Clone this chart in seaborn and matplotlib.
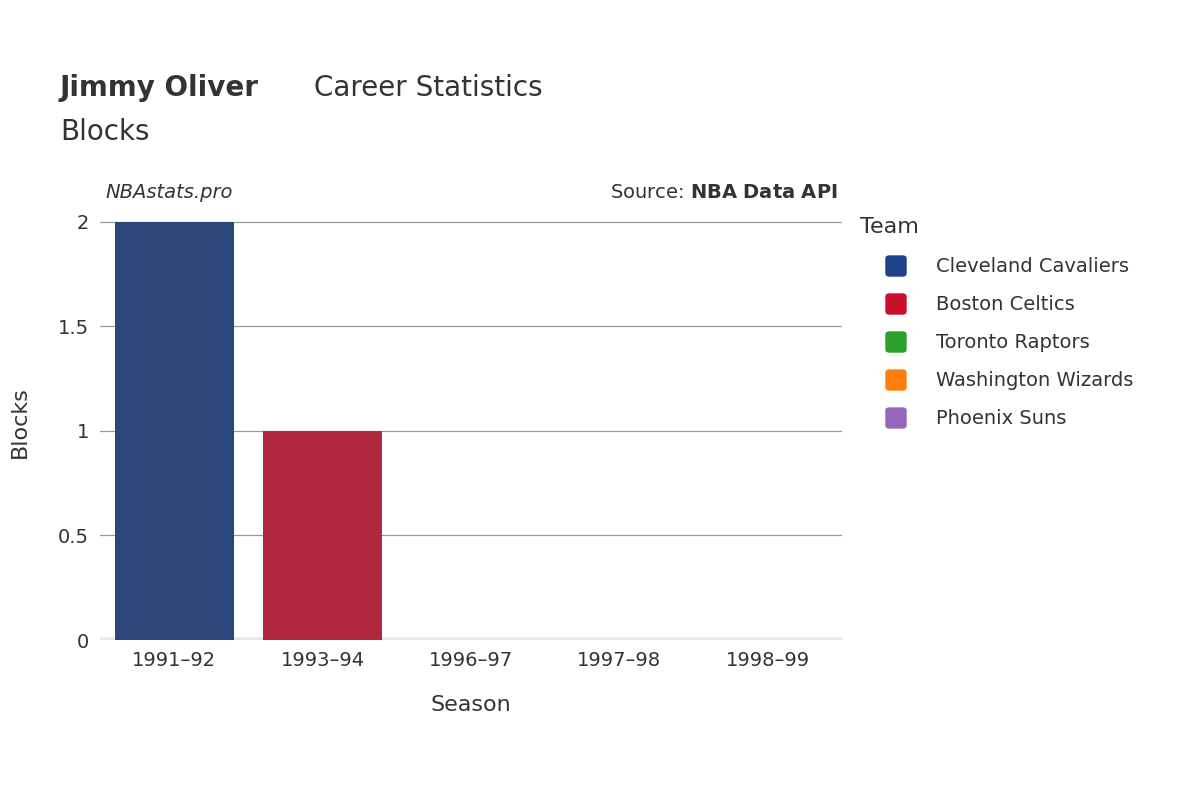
import matplotlib
matplotlib.use("Agg")
import matplotlib.pyplot as plt
import seaborn as sns
import pandas as pd

seasons = ["1991–92", "1993–94", "1996–97", "1997–98", "1998–99"]
teams = ["Cleveland Cavaliers", "Boston Celtics", "Toronto Raptors", "Washington Wizards", "Phoenix Suns"]
blocks = [2, 1, 0, 0, 0]
colors = ["#1d4289", "#c8102e", "#2ca02c", "#ff7f0e", "#9467bd"]

df = pd.DataFrame({"Season": seasons, "Team": teams, "Blocks": blocks})
plt.rcParams["font.family"] = "DejaVu Sans"
fig = plt.figure(figsize=(12, 8), dpi=100)
ax = fig.add_axes([100/1200, 160/800, 742/1200, 435/800])
sns.barplot(data=df, x="Season", y="Blocks", hue="Team", palette=colors,
            dodge=False, width=0.8, ax=ax, legend=False, zorder=3)
ax.set_ylim(0, 2.08)
ax.set_xlim(-0.5, 4.5)
ax.set_yticks([0, 0.5, 1, 1.5, 2])
ax.set_yticklabels(["0", "0.5", "1", "1.5", "2"])
ax.grid(axis="y", color="#999999", linewidth=0.9, zorder=0)
ax.axhline(0, color="#e8e8e8", linewidth=4, zorder=2)
for s in ax.spines.values():
    s.set_visible(False)
ax.tick_params(length=0, labelsize=14, colors="#333333", pad=8)
ax.set_xlabel("Season", fontsize=16, color="#333333", labelpad=18)
ax.set_ylabel("Blocks", fontsize=16, color="#333333", labelpad=20)

fig.text(60/1200, 1-88/800, "Jimmy Oliver", fontsize=20, fontweight="bold", color="#333333", va="center")
fig.text(314/1200, 1-88/800, "Career Statistics", fontsize=20, color="#333333", va="center")
fig.text(60/1200, 1-132/800, "Blocks", fontsize=20, color="#333333", va="center")
fig.text(105/1200, 1-192/800, "NBAstats.pro", fontsize=14, style="italic", color="#333333", va="center")
fig.text(838/1200, 1-192/800, "Source: $\\bf{NBA\\ Data\\ API}$", fontsize=14, color="#333333", va="center", ha="right")

fig.text(860/1200, 1-227/800, "Team", fontsize=16, color="#333333", va="center")
for i, (t, c) in enumerate(zip(teams, colors)):
    y = 1-(266+38*i)/800
    fig.patches.append(matplotlib.patches.FancyBboxPatch((886/1200, y-10/800), 20/1200, 20/800,
        boxstyle="round,pad=0,rounding_size=0.003", transform=fig.transFigure, color=c))
    fig.text(936/1200, y, t, fontsize=14, color="#333333", va="center")

fig.savefig("out.png", dpi=100, facecolor="white")
